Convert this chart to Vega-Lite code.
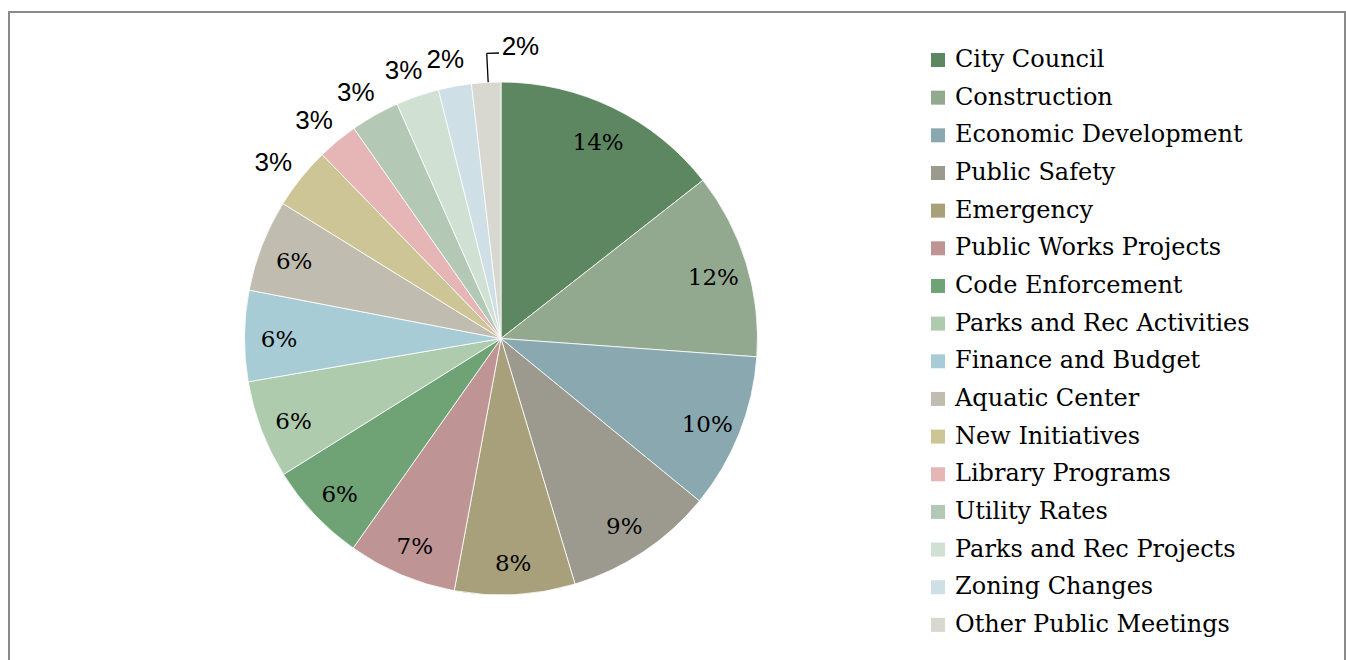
{
  "$schema": "https://vega.github.io/schema/vega-lite/v6.json",
  "width": 1336,
  "height": 660,
  "autosize": "none",
  "padding": {"left": 9, "top": 12, "right": 1, "bottom": 0},
  "background": "white",
  "config": {
    "view": {"stroke": null},
    "legend": {
      "orient": "none",
      "legendX": 917,
      "legendY": 36,
      "padding": 0,
      "title": null,
      "symbolType": "square",
      "symbolSize": 196,
      "symbolStrokeWidth": 0,
      "symbolOpacity": 1,
      "labelFont": "DejaVu Serif",
      "labelFontSize": 24,
      "labelColor": "#000000",
      "labelOffset": 5,
      "labelLimit": 400,
      "rowPadding": 13.66
    }
  },
  "datasets": {
    "topics": [
      {"category": "City Council", "rank": 1, "value": 14.42, "label": "14%", "pos": "in"},
      {"category": "Construction", "rank": 2, "value": 11.72, "label": "12%", "pos": "in"},
      {"category": "Economic Development", "rank": 3, "value": 9.78, "label": "10%", "pos": "in"},
      {"category": "Public Safety", "rank": 4, "value": 9.42, "label": "9%", "pos": "in"},
      {"category": "Emergency", "rank": 5, "value": 7.58, "label": "8%", "pos": "in"},
      {"category": "Public Works Projects", "rank": 6, "value": 6.86, "label": "7%", "pos": "in"},
      {"category": "Code Enforcement", "rank": 7, "value": 6.33, "label": "6%", "pos": "in"},
      {"category": "Parks and Rec Activities", "rank": 8, "value": 6.19, "label": "6%", "pos": "in"},
      {"category": "Finance and Budget", "rank": 9, "value": 5.72, "label": "6%", "pos": "in"},
      {"category": "Aquatic Center", "rank": 10, "value": 5.8, "label": "6%", "pos": "in"},
      {"category": "New Initiatives", "rank": 11, "value": 3.9, "label": "3%", "pos": "out"},
      {"category": "Library Programs", "rank": 12, "value": 2.56, "label": "3%", "pos": "out"},
      {"category": "Utility Rates", "rank": 13, "value": 3.08, "label": "3%", "pos": "out"},
      {"category": "Parks and Rec Projects", "rank": 14, "value": 2.72, "label": "3%", "pos": "out"},
      {"category": "Zoning Changes", "rank": 15, "value": 2.08, "label": "2%", "pos": "out"},
      {"category": "Other Public Meetings", "rank": 16, "value": 1.84, "label": "2%", "pos": "lead"}
    ],
    "frame": [{"name": "frame"}]
  },
  "data": {"name": "topics"},
  "layer": [
    {
      "data": {"name": "frame"},
      "mark": {"type": "rect", "filled": false, "stroke": "#8a8a8a", "strokeWidth": 2},
      "encoding": {
        "x": {"value": 0},
        "x2": {"value": "width"},
        "y": {"value": 0},
        "y2": {"value": "height"}
      }
    },
    {
      "mark": {"type": "arc", "x": 492, "y": 326.5, "radius": 256.5, "stroke": "#ffffff", "strokeWidth": 0.8},
      "encoding": {
        "theta": {"field": "value", "type": "quantitative", "stack": true},
        "order": {"field": "rank", "type": "quantitative"},
        "color": {
          "field": "category",
          "type": "nominal",
          "scale": {
            "domain": ["City Council", "Construction", "Economic Development", "Public Safety", "Emergency", "Public Works Projects", "Code Enforcement", "Parks and Rec Activities", "Finance and Budget", "Aquatic Center", "New Initiatives", "Library Programs", "Utility Rates", "Parks and Rec Projects", "Zoning Changes", "Other Public Meetings"],
            "range": ["#5c8760", "#92a98f", "#8aa8b0", "#9c9a8f", "#a8a07a", "#be9494", "#6fa275", "#aecbae", "#a8ccd6", "#c0bdb0", "#cec596", "#e6b6b6", "#b3c9b5", "#d0e0d3", "#cedfe5", "#d8d7d0"]
          },
          "legend": {}
        }
      }
    },
    {
      "mark": {"type": "text", "x": 492, "y": 326.5, "radius": 222, "dy": 4, "font": "DejaVu Serif", "fontSize": 23, "color": "#000000", "align": "center", "baseline": "middle"},
      "encoding": {
        "theta": {"field": "value", "type": "quantitative", "stack": true},
        "order": {"field": "rank", "type": "quantitative"},
        "text": {"condition": {"test": "datum.pos == 'in'", "field": "label"}, "value": ""}
      }
    },
    {
      "mark": {"type": "text", "x": 492, "y": 326.5, "radius": 287, "dx": -4, "dy": 4, "font": "Liberation Sans", "fontSize": 26, "color": "#000000", "align": "center", "baseline": "middle"},
      "encoding": {
        "theta": {"field": "value", "type": "quantitative", "stack": true},
        "order": {"field": "rank", "type": "quantitative"},
        "text": {"condition": {"test": "datum.pos == 'out'", "field": "label"}, "value": ""}
      }
    },
    {
      "mark": {"type": "text", "x": 492, "y": 326.5, "radius": 287, "dx": 36, "dy": -4.5, "font": "Liberation Sans", "fontSize": 26, "color": "#000000", "align": "center", "baseline": "middle"},
      "encoding": {
        "theta": {"field": "value", "type": "quantitative", "stack": true},
        "order": {"field": "rank", "type": "quantitative"},
        "text": {"condition": {"test": "datum.pos == 'lead'", "field": "label"}, "value": ""}
      }
    },
    {
      "transform": [
        {"window": [{"op": "sum", "field": "value", "as": "cumEnd"}], "sort": [{"field": "rank"}], "frame": [null, 0]},
        {"filter": "datum.pos == 'lead'"}
      ],
      "mark": {"type": "arc", "x": 492, "y": 326.5, "radius": 285.5, "radius2": 256.5, "thetaOffset": -0.05, "theta2Offset": -0.05, "filled": false, "stroke": "#000000", "strokeWidth": 1.3},
      "encoding": {
        "theta": {"field": "cumEnd", "type": "quantitative", "stack": null},
        "theta2": {"field": "cumEnd"}
      }
    },
    {
      "transform": [
        {"window": [{"op": "sum", "field": "value", "as": "cumEnd"}], "sort": [{"field": "rank"}], "frame": [null, 0]},
        {"filter": "datum.pos == 'lead'"}
      ],
      "mark": {"type": "arc", "x": 492, "y": 326.5, "radius": 285.5, "radius2": 285.5, "thetaOffset": -0.05, "theta2Offset": -0.007, "filled": false, "stroke": "#000000", "strokeWidth": 1.3},
      "encoding": {
        "theta": {"field": "cumEnd", "type": "quantitative", "stack": null},
        "theta2": {"field": "cumEnd"}
      }
    }
  ]
}
